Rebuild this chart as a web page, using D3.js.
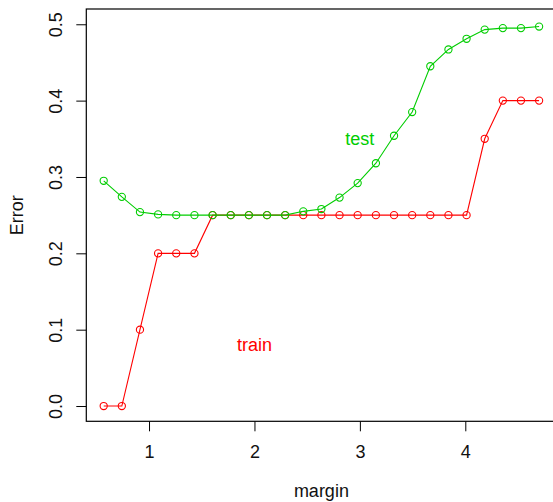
<!DOCTYPE html>
<html>
<head>
<meta charset="utf-8">
<script src="https://cdn.jsdelivr.net/npm/d3@7"></script>
<style>
  body { margin: 0; background: #fff; }
  text { font-family: "Liberation Sans", Arial, sans-serif; }
</style>
</head>
<body>
<svg id="chart" width="553" height="502"></svg>
<script>
// margin values (x) shared by both series
var margins = [0.570, 0.742, 0.914, 1.086, 1.258, 1.431, 1.603, 1.775, 1.947, 2.119,
               2.291, 2.463, 2.635, 2.807, 2.979, 3.152, 3.324, 3.496, 3.668, 3.840,
               4.012, 4.184, 4.356, 4.528, 4.700];
var trainErr = [0.0, 0.0, 0.1, 0.2, 0.2, 0.2, 0.25, 0.25, 0.25, 0.25,
                0.25, 0.25, 0.25, 0.25, 0.25, 0.25, 0.25, 0.25, 0.25, 0.25,
                0.25, 0.35, 0.4, 0.4, 0.4];
var testErr = [0.295, 0.274, 0.254, 0.251, 0.25, 0.25, 0.25, 0.25, 0.25, 0.25,
               0.25, 0.255, 0.258, 0.273, 0.292, 0.318, 0.354, 0.385, 0.445, 0.467,
               0.481, 0.493, 0.495, 0.495, 0.497];
var xTicks = [1, 2, 3, 4];
var yTicks = [0.0, 0.1, 0.2, 0.3, 0.4, 0.5];

var svg = d3.select('#chart');

var x = d3.scaleLinear().domain([0.405, 4.865]).range([86.3, 556.5]);
var y = d3.scaleLinear().domain([-0.02, 0.52]).range([421.3, 9.0]);

var red = '#ff0000', green = '#00cd00';

// box
svg.append('rect')
  .attr('x', x(0.405)).attr('y', y(0.52))
  .attr('width', x(4.865) - x(0.405)).attr('height', y(-0.02) - y(0.52))
  .attr('fill', 'none').attr('stroke', '#000').attr('stroke-width', 1.2);

// x axis
var xa = svg.append('g').attr('transform', 'translate(0,' + y(-0.02) + ')')
  .call(d3.axisBottom(x).tickValues(xTicks).tickSize(10).tickPadding(14)
        .tickFormat(d3.format('d')));
xa.select('.domain').remove();
xa.selectAll('text').attr('font-size', 18).attr('fill', '#111')
  .style('font-family', '"Liberation Sans", Arial, sans-serif');

// y axis
var ya = svg.append('g').attr('transform', 'translate(' + x(0.405) + ',0)')
  .call(d3.axisLeft(y).tickValues(yTicks).tickSize(10).tickFormat(d3.format('.1f')));
ya.select('.domain').remove();
ya.selectAll('.tick text')
  .attr('font-size', 18).attr('fill', '#111')
  .style('font-family', '"Liberation Sans", Arial, sans-serif')
  .attr('text-anchor', 'middle')
  .attr('x', 0).attr('dy', 0)
  .attr('transform', 'translate(-30,0) rotate(-90)')
  .attr('y', 0).attr('dominant-baseline', 'central');

// axis titles
svg.append('text')
  .attr('x', (x(0.405) + x(4.865)) / 2).attr('y', 497)
  .attr('text-anchor', 'middle').attr('font-size', 18).attr('fill', '#111')
  .text('margin');
svg.append('text')
  .attr('transform', 'translate(23,' + (y(-0.02) + y(0.52)) / 2 + ') rotate(-90)')
  .attr('text-anchor', 'middle').attr('font-size', 18).attr('fill', '#111')
  .text('Error');

function drawSeries(vals, color) {
  var pts = margins.map(function(m, i) { return [m, vals[i]]; });
  var line = d3.line().x(function(d) { return x(d[0]); }).y(function(d) { return y(d[1]); });
  svg.append('path').datum(pts)
    .attr('d', line).attr('fill', 'none').attr('stroke', color).attr('stroke-width', 1.1);
  svg.selectAll(null).data(pts).enter().append('circle')
    .attr('cx', function(d) { return x(d[0]); })
    .attr('cy', function(d) { return y(d[1]); })
    .attr('r', 3.6)
    .attr('fill', 'none').attr('stroke', color).attr('stroke-width', 1.1);
}

drawSeries(trainErr, red);
drawSeries(testErr, green);

// labels in the plot
svg.append('text').attr('x', x(3)).attr('y', y(0.35)).attr('dy', '0.35em')
  .attr('text-anchor', 'middle').attr('font-size', 18).attr('fill', green).text('test');
svg.append('text').attr('x', x(2)).attr('y', y(0.08)).attr('dy', '0.35em')
  .attr('text-anchor', 'middle').attr('font-size', 18).attr('fill', red).text('train');
</script>
</body>
</html>
